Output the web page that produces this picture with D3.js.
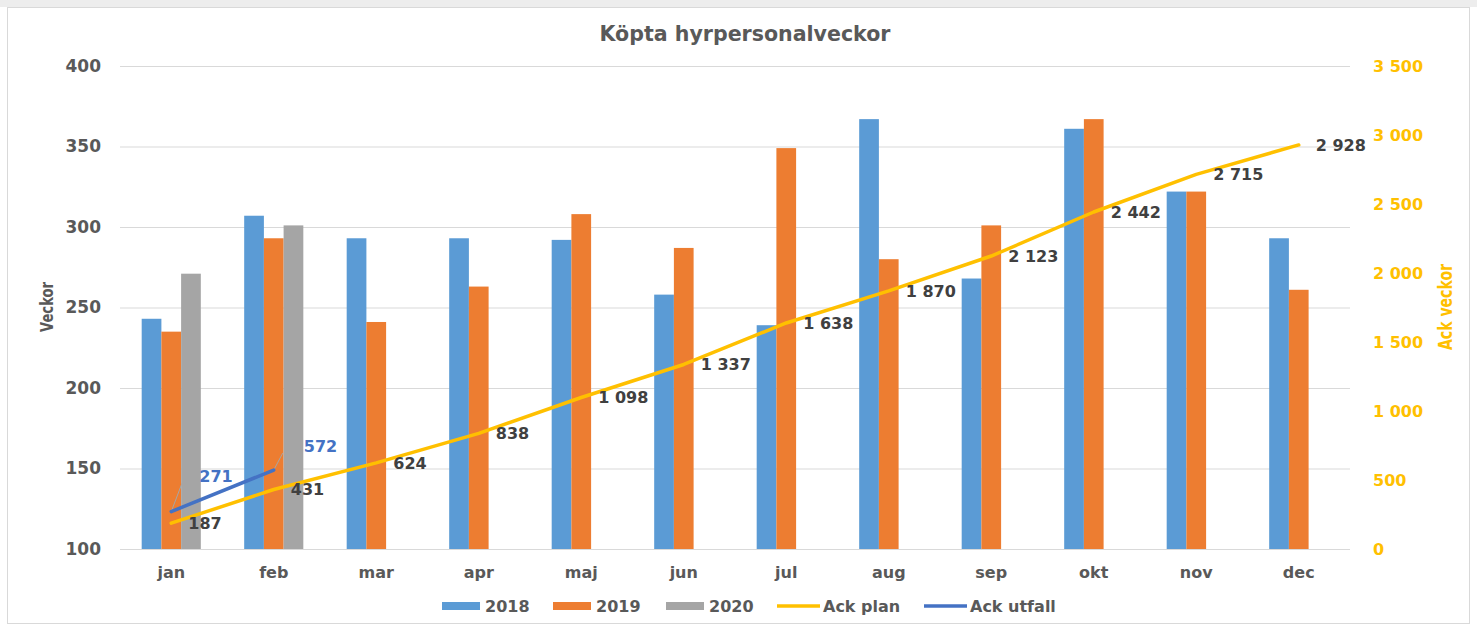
<!DOCTYPE html>
<html>
<head>
<meta charset="utf-8">
<script src="https://cdn.jsdelivr.net/npm/d3@7/dist/d3.min.js"></script>
<style>
  html, body { margin: 0; padding: 0; background: #ffffff; }
  svg { display: block; }
  text { font-family: "DejaVu Sans", sans-serif; }
</style>
</head>
<body>
<svg id="chart" width="1477" height="628"></svg>
<script>
// ---------- data ----------
const months = ["jan","feb","mar","apr","maj","jun","jul","aug","sep","okt","nov","dec"];
const barSeries = ["2018","2019","2020"];
const values2018 = [243, 307, 293, 293, 292, 258, 239, 367, 268, 361, 322, 293];
const values2019 = [235, 293, 241, 263, 308, 287, 349, 280, 301, 367, 322, 261];
const values2020 = [271, 301, null, null, null, null, null, null, null, null, null, null];
const ackPlan = [187, 431, 624, 838, 1098, 1337, 1638, 1870, 2123, 2442, 2715, 2928];
const ackUtfall = [271, 572];
const leftTicks = [100, 150, 200, 250, 300, 350, 400];
const rightTicks = [0, 500, 1000, 1500, 2000, 2500, 3000, 3500];
const legendLabels = ["2018", "2019", "2020", "Ack plan", "Ack utfall"];
const titleText = "Köpta hyrpersonalveckor";
const leftAxisTitle = "Veckor";
const rightAxisTitle = "Ack veckor";

// ---------- styling / layout ----------
const colors = { "2018": "#5B9BD5", "2019": "#ED7D31", "2020": "#A5A5A5", plan: "#FFC000", utfall: "#4472C4" };
const M = { left: 120, right: 1350, top: 66, bottom: 549 };
const svg = d3.select("#chart");
const loc = d3.formatLocale({ decimal: ",", thousands: " ", grouping: [3], currency: ["", ""] });
const fmt = loc.format(",d");

// frame
svg.append("rect").attr("x", 0).attr("y", 0).attr("width", 1477).attr("height", 7).attr("fill", "#ededed");
svg.append("rect").attr("x", 7.5).attr("y", 7.5).attr("width", 1462).attr("height", 616)
  .attr("fill", "#fff").attr("stroke", "#d9d9d9");

// scales
const x0 = d3.scaleBand().domain(months).range([M.left, M.right]).paddingInner(0).paddingOuter(0);
const x1 = d3.scaleBand().domain(barSeries).range([0, x0.bandwidth()]).paddingInner(0).paddingOuter(1.1);
const yL = d3.scaleLinear().domain([100, 400]).range([M.bottom, M.top]);
const yR = d3.scaleLinear().domain([0, 3500]).range([M.bottom, M.top]);

// gridlines
svg.append("g").selectAll("line").data(leftTicks).join("line")
  .attr("x1", M.left).attr("x2", M.right)
  .attr("y1", d => yL(d) + 0.5).attr("y2", d => yL(d) + 0.5)
  .attr("stroke", "#d9d9d9").attr("stroke-width", 1);

// left axis
const gL = svg.append("g").attr("transform", `translate(${M.left - 19},0)`)
  .call(d3.axisLeft(yL).tickValues(leftTicks).tickSize(0).tickPadding(0));
gL.select(".domain").remove();
gL.selectAll("text").attr("font-size", 17).attr("font-weight", "bold").attr("fill", "#595959")
  .attr("font-family", "DejaVu Sans");

// right axis
const gR = svg.append("g").attr("transform", `translate(${M.right + 23},0)`)
  .call(d3.axisRight(yR).tickValues(rightTicks).tickSize(0).tickPadding(0).tickFormat(fmt));
gR.select(".domain").remove();
gR.selectAll("text").attr("font-size", 16).attr("font-weight", "bold").attr("fill", "#FFC000")
  .attr("font-family", "DejaVu Sans");

// x axis
const gX = svg.append("g").attr("transform", `translate(0,${M.bottom + 23})`)
  .call(d3.axisBottom(x0).tickSize(0).tickPadding(0));
gX.select(".domain").remove();
gX.selectAll("text").attr("font-size", 16).attr("font-weight", "bold").attr("fill", "#595959")
  .attr("font-family", "DejaVu Sans").attr("dy", "0.35em");

// bars
const barData = [];
months.forEach((m, i) => {
  [[ "2018", values2018[i] ], [ "2019", values2019[i] ], [ "2020", values2020[i] ]].forEach(([s, v]) => {
    if (v != null) barData.push({ m, s, v });
  });
});
svg.append("g").selectAll("rect").data(barData).join("rect")
  .attr("x", d => x0(d.m) + x1(d.s))
  .attr("width", x1.bandwidth())
  .attr("y", d => yL(d.v))
  .attr("height", d => yL(100) - yL(d.v))
  .attr("fill", d => colors[d.s]);

// lines
const cx = m => x0(m) + x0.bandwidth() / 2;
const line = d3.line().x(d => cx(d.m)).y(d => yR(d.v));
const planData = ackPlan.map((v, i) => ({ m: months[i], v }));
const utfallData = ackUtfall.map((v, i) => ({ m: months[i], v }));

svg.append("path").datum(planData).attr("d", line)
  .attr("fill", "none").attr("stroke", colors.plan).attr("stroke-width", 3.5).attr("stroke-linejoin", "round").attr("stroke-linecap", "round");

// utfall leader lines
const utfallLeader = [{ dx: 11, dy: -29 }, { dx: 9, dy: -17 }];
const utfallLabelOffset = [{ dx: 28, dy: -35 }, { dx: 30, dy: -24 }];
svg.append("g").selectAll("line").data(utfallData).join("line")
  .attr("x1", d => cx(d.m)).attr("y1", d => yR(d.v))
  .attr("x2", (d, i) => cx(d.m) + utfallLeader[i].dx).attr("y2", (d, i) => yR(d.v) + utfallLeader[i].dy)
  .attr("stroke", "#a6a6a6").attr("stroke-width", 1);

svg.append("path").datum(utfallData).attr("d", line)
  .attr("fill", "none").attr("stroke", colors.utfall).attr("stroke-width", 3.5).attr("stroke-linecap", "round");

// plan labels
svg.append("g").selectAll("text").data(planData).join("text")
  .attr("x", d => cx(d.m) + 17).attr("y", d => yR(d.v)).attr("dy", "0.36em")
  .attr("font-size", 16).attr("font-weight", "bold").attr("fill", "#404040")
  .text(d => fmt(d.v));

// utfall labels
svg.append("g").selectAll("text").data(utfallData).join("text")
  .attr("x", (d, i) => cx(d.m) + utfallLabelOffset[i].dx).attr("y", (d, i) => yR(d.v) + utfallLabelOffset[i].dy)
  .attr("dy", "0.36em")
  .attr("font-size", 16).attr("font-weight", "bold").attr("fill", colors.utfall)
  .text(d => fmt(d.v));

// title
svg.append("text").attr("x", 745).attr("y", 33).attr("dy", "0.36em").attr("text-anchor", "middle")
  .attr("font-size", 21).attr("font-weight", "bold").attr("fill", "#595959")
  .attr("textLength", 291).attr("lengthAdjust", "spacingAndGlyphs").text(titleText);

// axis titles
svg.append("text").attr("transform", `translate(47,307) rotate(-90)`).attr("dy", "0.36em")
  .attr("text-anchor", "middle").attr("font-size", 17).attr("font-weight", "bold").attr("fill", "#595959")
  .attr("textLength", 50).attr("lengthAdjust", "spacingAndGlyphs")
  .text(leftAxisTitle);
svg.append("text").attr("transform", `translate(1445,307) rotate(-90)`).attr("dy", "0.36em")
  .attr("text-anchor", "middle").attr("font-size", 19).attr("font-weight", "bold").attr("fill", "#FFC000")
  .attr("textLength", 86).attr("lengthAdjust", "spacingAndGlyphs")
  .text(rightAxisTitle);

// legend
const legendKeys = [
  { label: legendLabels[0], color: colors["2018"], type: "rect" },
  { label: legendLabels[1], color: colors["2019"], type: "rect" },
  { label: legendLabels[2], color: colors["2020"], type: "rect" },
  { label: legendLabels[3], color: colors.plan, type: "line" },
  { label: legendLabels[4], color: colors.utfall, type: "line" }
];
const legendX = [442, 553, 666, 777, 924];
const legendY = 606;
const lg = svg.append("g");
legendKeys.forEach((k, i) => {
  const g = lg.append("g").attr("transform", `translate(${legendX[i]},${legendY})`);
  if (k.type === "rect") {
    g.append("rect").attr("x", 0).attr("y", -4).attr("width", 38).attr("height", 8).attr("fill", k.color);
  } else {
    g.append("line").attr("x1", 0).attr("x2", 43).attr("y1", 0).attr("y2", 0)
      .attr("stroke", k.color).attr("stroke-width", 3.5);
  }
  g.append("text").attr("x", k.type === "rect" ? 43 : 46).attr("y", 0).attr("dy", "0.36em")
    .attr("font-size", 16).attr("font-weight", "bold").attr("fill", "#595959").text(k.label);
});
</script>
</body>
</html>
